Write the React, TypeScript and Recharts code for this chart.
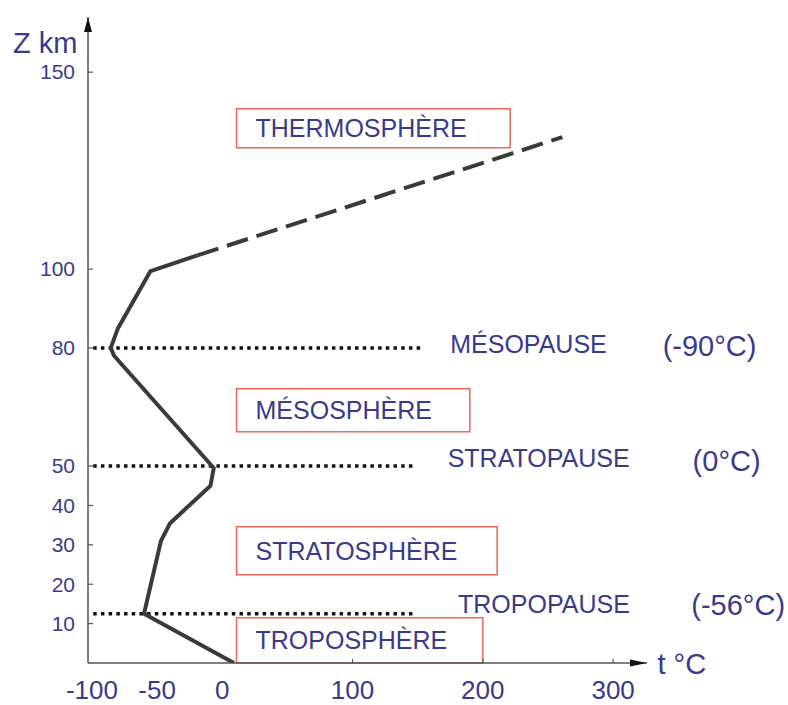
import {
  LineChart,
  Line,
  XAxis,
  YAxis,
  ReferenceLine,
  ReferenceArea,
  ReferenceDot,
} from "recharts";

// temperature profile (°C) against altitude (km)
const lowerTemp = [9, -60, -47, -40, -9, -6.5, -83, -85.5, -80, -55, -19];
const lowerAlt = [0, 12.5, 31, 35.5, 45, 49.5, 78, 80, 85, 99.5, 103.5];
const upperTemp = [-19, 261];
const upperAlt = [103.5, 133.5];

const altTicks = [10, 20, 30, 40, 50, 80, 100, 150];
const tempTicks = [-100, -50, 0, 100, 200, 300];

const pauseNames = ["MÉSOPAUSE", "STRATOPAUSE", "TROPOPAUSE"];
const pauseAlt = [80, 50, 12.5];
const pauseEnd = [152, 148, 146];
const pauseTemps = ["(-90°C)", "(0°C)", "(-56°C)"];

const layerNames = ["THERMOSPHÈRE", "MÉSOSPHÈRE", "STRATOSPHÈRE", "TROPOSPHÈRE"];
const layerBottom = [130.8, 58.7, 22.4, 0];
const layerTop = [140.7, 69.6, 34.6, 11.5];
const layerRight = [221, 190, 211, 200];

const lower = lowerTemp.map((t, i) => ({ t, z: lowerAlt[i] }));
const upper = upperTemp.map((t, i) => ({ t, z: upperAlt[i] }));

const FONT = "'Liberation Sans', Arial, sans-serif";
const BLUE = "#3a3a8c";
const AXIS = "#555";

// label anchors (left edge / baseline) in data units
const notes = [
  { t: 175, z: 78.8, text: pauseNames[0], size: 25 },
  { t: 338, z: 78, text: pauseTemps[0], size: 29 },
  { t: 173, z: 49.8, text: pauseNames[1], size: 25 },
  { t: 361, z: 48.8, text: pauseTemps[1], size: 29 },
  { t: 181, z: 12.8, text: pauseNames[2], size: 25 },
  { t: 360, z: 12.3, text: pauseTemps[2], size: 29 },
  { t: -160.5, z: 154.9, text: "Z km", size: 29 },
  { t: 334, z: -2.7, text: "t °C", size: 29 },
];

const AltTick = ({ x, y, payload }: any) => (
  <g>
    <line x1={x + 12} x2={x + 17} y1={y} y2={y} stroke={AXIS} strokeWidth={1.2} />
    <text
      x={x - 1}
      y={y}
      dy="0.35em"
      textAnchor="end"
      fill={BLUE}
      fontSize={21}
      fontFamily={FONT}
    >
      {payload.value}
    </text>
  </g>
);

const TempTick = ({ x, y, payload }: any) => (
  <g>
    {payload.value > 0 && (
      <line x1={x} x2={x} y1={y - 4} y2={y} stroke={AXIS} strokeWidth={1.2} />
    )}
    <text
      x={x}
      y={y + 36}
      textAnchor="middle"
      fill={BLUE}
      fontSize={26}
      fontFamily={FONT}
    >
      {payload.value}
    </text>
  </g>
);

const noteLabel = (text: string, size: number) => (props: any) => {
  const vb = props.viewBox || {};
  return (
    <text
      x={vb.x}
      y={vb.y}
      fill={BLUE}
      fontSize={size}
      fontFamily={FONT}
      textAnchor="start"
    >
      {text}
    </text>
  );
};

const upArrow = ({ cx, cy }: any) => (
  <path d={`M${cx},${cy} L${cx - 4},${cy + 15} L${cx + 4},${cy + 15} Z`} fill="#111" />
);
const rightArrow = ({ cx, cy }: any) => (
  <path d={`M${cx},${cy} L${cx - 17},${cy - 3.5} L${cx - 17},${cy + 3.5} Z`} fill="#111" />
);

export default function App() {
  return (
    <div
      style={{
        position: "absolute",
        left: 0,
        top: 0,
        width: 788,
        height: 705,
        background: "#fff",
      }}
    >
      <LineChart
        width={788}
        height={705}
        margin={{ top: 17, right: 141, bottom: 12, left: 0 }}
      >
        <XAxis
          type="number"
          dataKey="t"
          domain={[-103, 326]}
          ticks={tempTicks}
          tick={<TempTick />}
          tickSize={0}
          tickMargin={0}
          height={30}
          axisLine={{ stroke: AXIS, strokeWidth: 1.5 }}
          allowDataOverflow
        />
        <YAxis
          type="number"
          dataKey="z"
          domain={[0, 164]}
          ticks={altTicks}
          tick={<AltTick />}
          tickSize={0}
          tickMargin={12}
          width={88}
          axisLine={{ stroke: AXIS, strokeWidth: 1.5 }}
          allowDataOverflow
        />

        {layerNames.map((name, i) => (
          <ReferenceArea
            key={name}
            x1={11}
            x2={layerRight[i]}
            y1={layerBottom[i]}
            y2={layerTop[i]}
            fill="#fff"
            fillOpacity={0}
            stroke="#ee6655"
            strokeWidth={1.5}
            strokeOpacity={1}
            ifOverflow="visible"
            label={{
              value: name,
              position: "insideLeft",
              offset: 19,
              fill: BLUE,
              fontSize: 25,
              fontFamily: FONT,
            }}
          />
        ))}

        {pauseAlt.map((z, i) => (
          <ReferenceLine
            key={z}
            segment={[
              { x: -99, y: z },
              { x: pauseEnd[i], y: z },
            ]}
            stroke="#111"
            strokeWidth={3.5}
            strokeDasharray="3.5 4.2"
            ifOverflow="visible"
          />
        ))}

        <Line
          data={lower}
          dataKey="z"
          type="linear"
          stroke="#3a3a3a"
          strokeWidth={4}
          strokeLinejoin="round"
          dot={false}
          isAnimationActive={false}
        />
        <Line
          data={upper}
          dataKey="z"
          type="linear"
          stroke="#3a3a3a"
          strokeWidth={4}
          strokeDasharray="22 9"
          dot={false}
          isAnimationActive={false}
        />

        <ReferenceDot x={-103} y={164} r={0} shape={upArrow} ifOverflow="visible" />
        <ReferenceDot x={326} y={0} r={0} shape={rightArrow} ifOverflow="visible" />

        {notes.map((n) => (
          <ReferenceDot
            key={n.text}
            x={n.t}
            y={n.z}
            r={0}
            fill="none"
            stroke="none"
            ifOverflow="visible"
            label={{ content: noteLabel(n.text, n.size) }}
          />
        ))}
      </LineChart>
    </div>
  );
}
